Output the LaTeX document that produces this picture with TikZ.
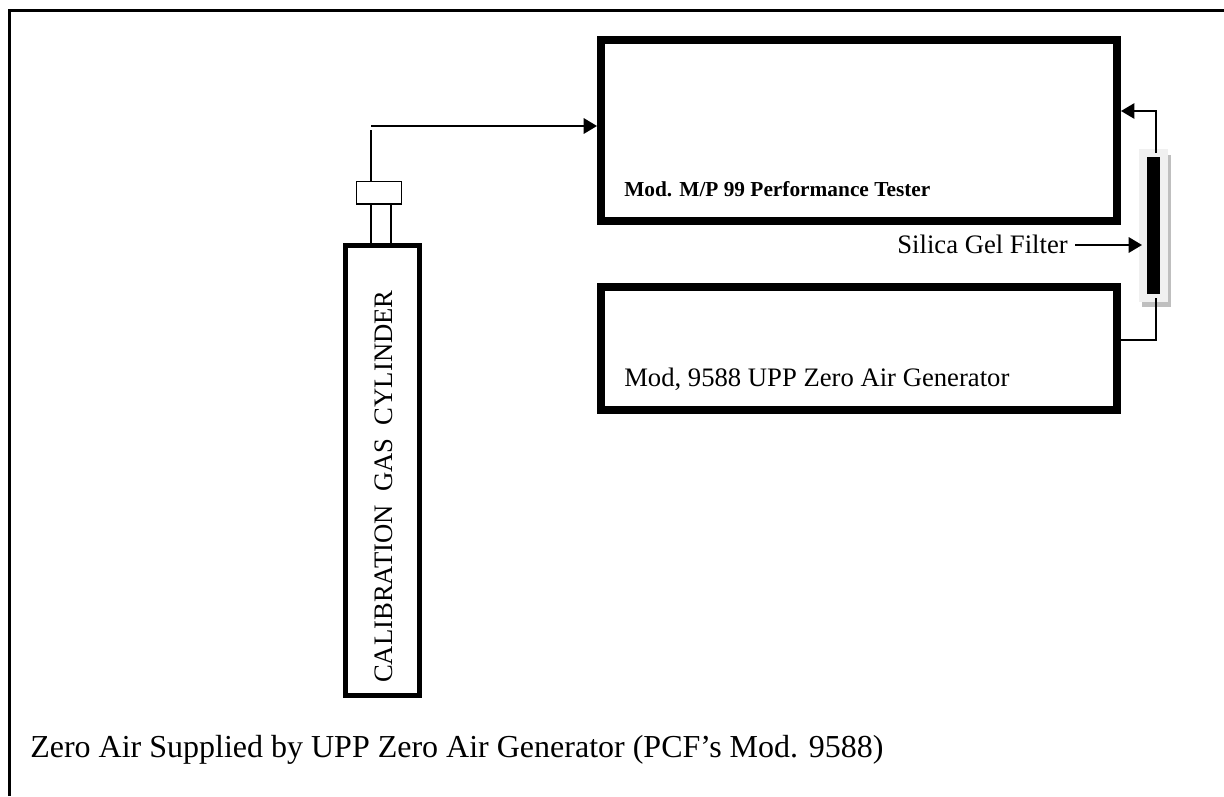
\documentclass[tikz,border=0pt]{standalone}
\usepackage{fontspec}
\setmainfont{Liberation Serif}
\usetikzlibrary{positioning}
\usetikzlibrary{calc}
\usetikzlibrary{arrows.meta}
\begin{document}
\begin{tikzpicture}[
    x=0.75pt, y=-0.75pt,
    unit/.style={rectangle, draw=black, line width=6pt, inner sep=0pt},
    cylinderbox/.style={rectangle, draw=black, line width=3.75pt, inner sep=0pt},
    fitting/.style={rectangle, draw=black, line width=1pt, fill=white, inner sep=0pt},
    plain/.style={inner sep=0pt, font=\fontsize{20}{24}\selectfont},
    pipe/.style={draw=black, line width=1.25pt},
    feed/.style={draw=black, line width=1.75pt},
    >={Triangle[length=10pt,width=11.5pt]}
]
    \useasboundingbox (0,0) rectangle (1224,796);
    \draw[line width=1.75pt] (9.5,796) -- (9.5,10.5) -- (1224,10.5);

    % analyzer units
    \node[unit, minimum width=387pt, minimum height=135.75pt] (tester) at (859,130.5) {};
    \node[unit, minimum width=387pt, minimum height=92.25pt] (generator) at (859,348.5) {};
    \node[plain, anchor=base west, font=\bfseries\fontsize{16}{19}\selectfont] (testername) at (624,196) {Mod. M/P 99 Performance Tester};
    \node[plain, anchor=base west] (generatorname) at (624,386) {Mod, 9588 UPP Zero Air Generator};

    % gas cylinder
    \node[fitting, minimum width=15pt, minimum height=30pt] (neck) at (381,224) {};
    \node[fitting, minimum width=34pt, minimum height=17pt] (valve) at (379,192.5) {};
    \node[cylinderbox, minimum width=55.5pt, minimum height=337.5pt] (cylinder) at (382.5,470.5) {};
    \node[plain, rotate=90, anchor=base] (cylindername) at (392,486.5) {CALIBRATION\ \ GAS\ \ CYLINDER};
    \coordinate (top) at (371,130);
    \coordinate (line) at (371,126);
    \draw[pipe] (top) -- (top |- valve.north);
    \draw[feed, ->] (line) -- (line -| tester.west);

    % silica gel filter
    \fill[black!25] (1142,155) rectangle (1171,307);
    \node[fill=black!6, minimum width=21.75pt, minimum height=114.75pt, inner sep=0pt] (shell) at (1153.5,225.5) {};
    \node[fill=black, minimum width=9.75pt, minimum height=102.75pt, inner sep=0pt] (filter) at (1153.5,225.5) {};
    \node[plain, anchor=base east] (filtername) at (1068,253) {Silica Gel Filter};
    \coordinate (in) at (1156,111);
    \coordinate (out) at (1156,340);
    \coordinate (silica) at (1142,245);
    \draw[pipe, ->] (in |- shell.north) ++(0,4) -- (in) -- (in -| tester.east);
    \draw[pipe] (out |- filter.south) ++(0,4) -- (out) -- (out -| generator.east);
    \draw[feed, ->] (filtername.base east) ++(7,-8) -- (silica);

    \node[plain, anchor=base west, font=\fontsize{24}{28}\selectfont] (note) at (30,757) {Zero Air Supplied by UPP Zero Air Generator (PCF’s Mod. 9588)};
\end{tikzpicture}
\end{document}
